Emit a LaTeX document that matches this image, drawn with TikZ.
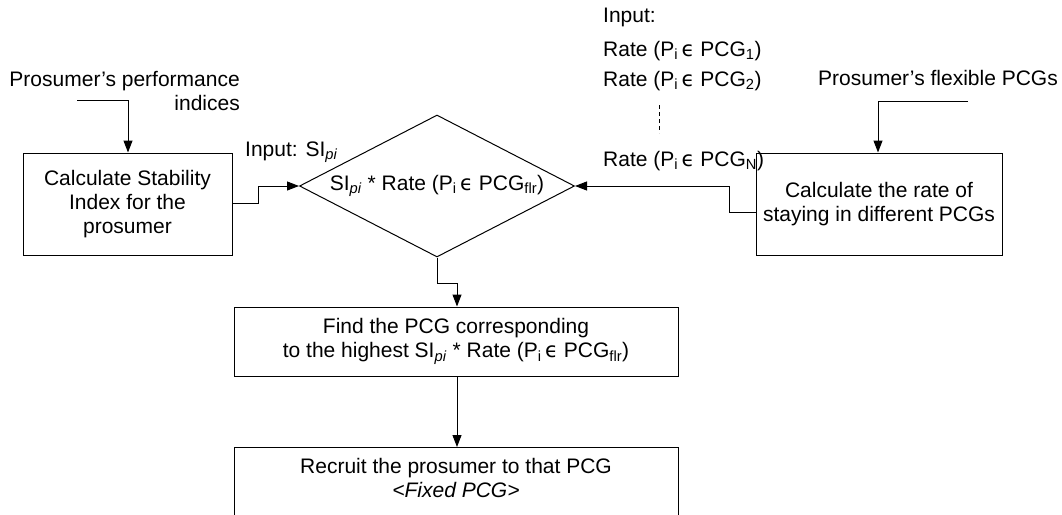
\documentclass[tikz,border=0pt]{standalone}
\usepackage{fontspec}
\setmainfont{Liberation Sans}
\newfontfamily\symfont{DejaVu Sans}
\usetikzlibrary{shapes.geometric,arrows.meta}

% element-of sign as printed in the formulas
\newcommand{\elem}{{\symfont ϵ}}

\begin{document}
\begin{tikzpicture}[x=1pt,y=-1pt,
  every node/.style={font=\fontsize{21}{24}\selectfont},
  flowbox/.style={draw,line width=1pt,rectangle,inner sep=0pt,align=center},
  decision/.style={draw,line width=1pt,diamond,aspect=1.94,inner sep=0pt,
    minimum width=275pt,minimum height=142pt},
  plain/.style={inner sep=0pt,align=center},
  flow/.style={line width=1pt,-{Triangle[length=12pt,width=9pt]}}]

\useasboundingbox (0,0) rectangle (1062,514);
\clip (0,0) rectangle (1062,514);

% process boxes
\node[flowbox,minimum width=209pt,minimum height=102pt] (stab) at (127.5,204)
  {Calculate Stability\\Index for the\\prosumer};
\node[flowbox,minimum width=246pt,minimum height=102pt] (rate) at (879,204)
  {Calculate the rate of\\staying in different PCGs};
\node[decision] (dec) at (437,186)
  {SI\textsubscript{\textit{pi}} * Rate (P\textsubscript{i}\,\elem\ PCG\textsubscript{flr})};
\node[flowbox,minimum width=444pt,minimum height=69pt] (find) at (456,341.5)
  {Find the PCG corresponding\\to the highest SI\textsubscript{\textit{pi}} * Rate (P\textsubscript{i}\,\elem\ PCG\textsubscript{flr})};
\node[flowbox,minimum width=444pt,minimum height=110pt,anchor=north] (recruit) at (456,447) {};
\node[plain] (recruittxt) at (456,478)
  {Recruit the prosumer to that PCG\\\textit{<Fixed PCG>}};

% external inputs
\node[plain,align=right,anchor=east] (perf) at (240,91)
  {Prosumer’s performance\\indices};
\node[plain] (flex) at (938,78) {Prosumer’s flexible PCGs};
\node[plain,anchor=west] (insi) at (245,152) {Input: SI\textsubscript{\textit{pi}}};

% list of rate inputs
\node[plain,anchor=west] (inrate) at (603,17) {Input:};
\node[plain,anchor=west] (rate1) at (603,51) {Rate (P\textsubscript{i}\,\elem\ PCG\textsubscript{1})};
\node[plain,anchor=west] (rate2) at (603,81) {Rate (P\textsubscript{i}\,\elem\ PCG\textsubscript{2})};
\node[plain,anchor=west] (rateN) at (603,161) {Rate (P\textsubscript{i}\,\elem\ PCG\textsubscript{N})};
\coordinate (dotstop) at (659,105);
\coordinate (dotsbot) at (659,133);
\draw[line width=1pt,dash pattern=on 4pt off 3pt] (dotstop) -- (dotsbot);

% connector end points
\coordinate (perfin) at (77,100);
\coordinate (flexin) at (968,101);

% connectors
\draw[flow] (perfin) -- (128,100) -- (stab.north -| 128,0);
\draw[flow] (flexin) -- (878,101) -- (rate.north -| 878,0);
\draw[flow] (stab.east |- 0,203) -- (258,203) -- (258,186) -- (dec.west);
\draw[flow] (rate.west |- 0,212) -- (729,212) -- (729,186) -- (dec.east);
\draw[flow] (dec.south) -- (437,283) -- (457,283) -- (find.north -| 457,0);
\draw[flow] (find.south -| 457,0) -- (recruit.north -| 457,0);

\end{tikzpicture}
\end{document}
